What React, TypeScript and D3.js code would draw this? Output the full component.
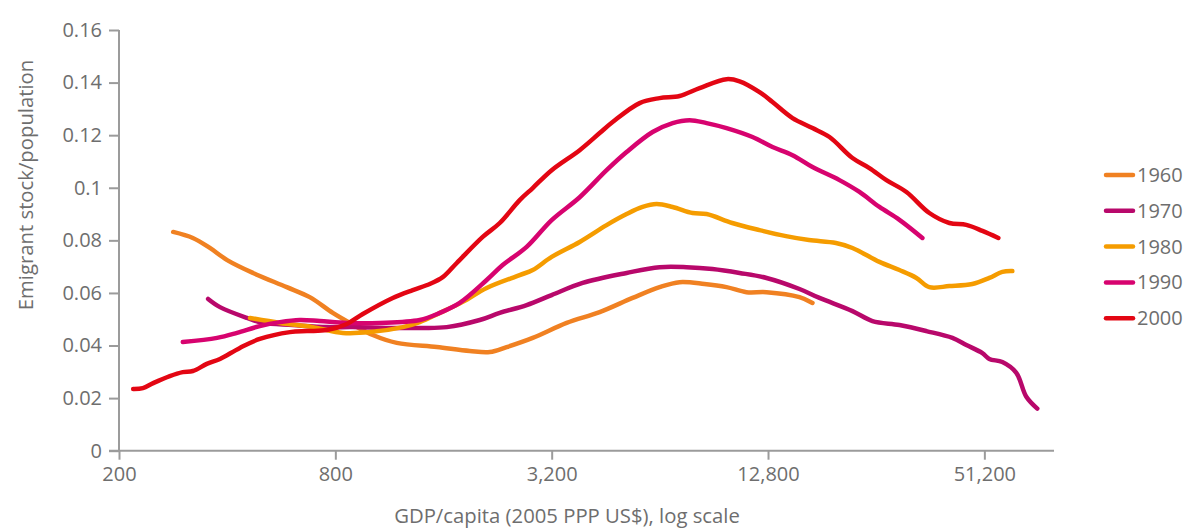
import React, { useEffect, useRef } from "react";
import * as d3 from "d3";

// GDP per capita (2005 PPP US$) and emigrant stock / population
const gdp1960 = [283, 321, 358, 400, 472, 586, 679, 787, 878, 1017, 1186, 1533, 1893, 2152, 2398, 2834, 3522, 4352, 5375, 6390, 7263, 8520, 9813, 11150, 12680, 15660, 17020];
const share1960 = [0.0832, 0.0809, 0.0771, 0.0725, 0.0676, 0.0622, 0.0584, 0.0524, 0.0486, 0.044, 0.041, 0.0394, 0.0379, 0.0375, 0.0394, 0.0429, 0.0486, 0.0527, 0.0581, 0.0622, 0.0641, 0.0634, 0.0622, 0.0603, 0.0603, 0.0584, 0.0562];

const gdp1970 = [354, 382, 454, 503, 609, 758, 895, 1113, 1374, 1634, 2018, 2294, 2726, 3200, 3903, 5172, 6390, 7596, 8970, 10667, 12680, 15660, 17800, 21990, 24990, 29710, 35320, 41720, 45620, 50560, 52860, 57450, 62840, 67000, 71880];
const share1970 = [0.0577, 0.0546, 0.0505, 0.0486, 0.0478, 0.047, 0.047, 0.0467, 0.0467, 0.047, 0.0497, 0.0524, 0.0554, 0.0592, 0.0638, 0.0676, 0.0698, 0.0698, 0.0691, 0.0676, 0.0657, 0.0615, 0.0581, 0.0531, 0.0493, 0.0478, 0.0455, 0.0429, 0.0402, 0.0371, 0.0349, 0.0337, 0.0296, 0.0205, 0.016];

const gdp1980 = [463, 561, 693, 839, 998, 1233, 1374, 1562, 1810, 2110, 2607, 2834, 3200, 3829, 4550, 5172, 5730, 6268, 6946, 7894, 8634, 10180, 12122, 14360, 16640, 19780, 21990, 26140, 29710, 33130, 35990, 40920, 47400, 52860, 57450, 61260];
const share1980 = [0.0505, 0.0486, 0.047, 0.0448, 0.0451, 0.047, 0.0489, 0.0524, 0.0566, 0.0619, 0.0668, 0.0687, 0.0737, 0.0794, 0.0858, 0.09, 0.0927, 0.0938, 0.0927, 0.0904, 0.09, 0.0866, 0.0839, 0.0816, 0.0801, 0.079, 0.0771, 0.0718, 0.0687, 0.0657, 0.0622, 0.0626, 0.0634, 0.0657, 0.068, 0.0683];

const gdp1990 = [301, 375, 426, 493, 561, 637, 724, 861, 1064, 1374, 1562, 1775, 2110, 2338, 2726, 3200, 3829, 4550, 5172, 6110, 6946, 7746, 8634, 9813, 11590, 13172, 14975, 17020, 20233, 23000, 26140, 29710, 34420];
const share1990 = [0.0413, 0.0429, 0.0448, 0.0474, 0.0489, 0.0497, 0.0493, 0.0486, 0.0486, 0.0497, 0.0524, 0.0562, 0.0649, 0.0706, 0.0775, 0.0877, 0.0964, 0.1067, 0.1136, 0.1212, 0.1246, 0.1257, 0.1246, 0.1227, 0.1193, 0.1155, 0.1124, 0.1079, 0.1029, 0.0984, 0.0927, 0.0878, 0.0809];

const gdp2000 = [219, 233, 249, 277, 301, 321, 351, 382, 434, 493, 598, 667, 758, 861, 954, 1156, 1314, 1465, 1592, 1742, 2057, 2294, 2607, 2834, 3200, 3829, 4352, 4729, 5622, 6390, 7263, 8256, 9813, 10667, 12122, 13172, 14975, 17020, 18980, 21990, 24510, 27330, 31070, 35990, 40920, 45620, 50560, 56000];
const share2000 = [0.0235, 0.0238, 0.0257, 0.0284, 0.0299, 0.0303, 0.033, 0.0349, 0.0391, 0.0425, 0.0451, 0.0455, 0.0459, 0.0482, 0.052, 0.0581, 0.0611, 0.0634, 0.066, 0.0714, 0.0813, 0.0866, 0.0953, 0.0999, 0.1067, 0.1143, 0.1208, 0.125, 0.1322, 0.1341, 0.1349, 0.1379, 0.1413, 0.1405, 0.1364, 0.1326, 0.1265, 0.1227, 0.1193, 0.1113, 0.1075, 0.1029, 0.0984, 0.0904, 0.0866, 0.0859, 0.0836, 0.0809];

const years = ["1960", "1970", "1980", "1990", "2000"];
const colors = ["#f08122", "#b8086b", "#f59c00", "#d7036f", "#e30613"];
const xTicks = [200, 800, 3200, 12800, 51200];
const yTicks = [0, 0.02, 0.04, 0.06, 0.08, 0.1, 0.12, 0.14, 0.16];

const W = 1191;
const H = 530;
const FONT = "'Open Sans', Lato, sans-serif";
const AXIS = "#9b9b9b";
const TEXT = "#6e6e6e";

export default function App() {
  const ref = useRef<SVGSVGElement>(null);

  useEffect(() => {
    const svg = d3.select(ref.current);
    svg.selectAll("*").remove();

    const x = d3.scaleLog().base(2).domain([200, 80000]).range([119, 1054]);
    const y = d3.scaleLinear().domain([0, 0.16]).range([450.7, 30]);

    const series = [
      { gdp: gdp1960, share: share1960 },
      { gdp: gdp1970, share: share1970 },
      { gdp: gdp1980, share: share1980 },
      { gdp: gdp1990, share: share1990 },
      { gdp: gdp2000, share: share2000 },
    ];

    // y axis
    const yAxis = svg
      .append("g")
      .attr("transform", "translate(119,0)")
      .call(
        d3
          .axisLeft(y)
          .tickValues(yTicks)
          .tickSize(10)
          .tickPadding(7)
          .tickFormat((d) => (d === 0 ? "0" : d3.format("")(+d)))
      );
    yAxis.select(".domain").attr("d", `M0,${y(0)}V${y(0.16)}`);

    // x axis
    const xAxis = svg
      .append("g")
      .attr("transform", `translate(0,${y(0)})`)
      .call(
        d3
          .axisBottom(x)
          .tickValues(xTicks)
          .tickSize(9)
          .tickPadding(7)
          .tickFormat((d) => d3.format(",")(+d))
      );
    xAxis.select(".domain").attr("d", `M109,0H1054`);

    svg.selectAll(".domain").attr("stroke", AXIS).attr("stroke-width", 2);
    svg.selectAll(".tick line").attr("stroke", AXIS).attr("stroke-width", 2);
    svg
      .selectAll(".tick text")
      .attr("fill", TEXT)
      .attr("font-family", FONT)
      .attr("font-size", 20);

    // axis titles
    svg
      .append("text")
      .attr("transform", "translate(33,185) rotate(-90)")
      .attr("text-anchor", "middle")
      .attr("font-family", FONT)
      .attr("font-size", 20.3)
      .attr("fill", TEXT)
      .text("Emigrant stock/population");

    svg
      .append("text")
      .attr("x", 567)
      .attr("y", 523)
      .attr("text-anchor", "middle")
      .attr("font-family", FONT)
      .attr("font-size", 20.3)
      .attr("fill", TEXT)
      .text("GDP/capita (2005 PPP US$), log scale");

    // lines
    const line = d3
      .line<[number, number]>()
      .x((d) => x(d[0]))
      .y((d) => y(d[1]))
      .curve(d3.curveCatmullRom.alpha(0.5));

    series.forEach((s, i) => {
      const pts: [number, number][] = s.gdp.map((g, j) => [g, s.share[j]]);
      svg
        .append("path")
        .datum(pts)
        .attr("d", line)
        .attr("fill", "none")
        .attr("stroke", colors[i])
        .attr("stroke-width", 4.5)
        .attr("stroke-linecap", "round")
        .attr("stroke-linejoin", "round");
    });

    // legend
    const legend = svg
      .append("g")
      .selectAll("g")
      .data(years)
      .enter()
      .append("g")
      .attr("transform", (d, i) => `translate(1106,${175 + i * 35.8})`);
    legend
      .append("line")
      .attr("x1", 0)
      .attr("x2", 27)
      .attr("stroke", (d, i) => colors[i])
      .attr("stroke-width", 4.5)
      .attr("stroke-linecap", "round");
    legend
      .append("text")
      .attr("x", 31)
      .attr("y", 7)
      .attr("font-family", FONT)
      .attr("font-size", 20)
      .attr("fill", TEXT)
      .text((d) => d);
  }, []);

  return (
    <svg
      ref={ref}
      width={W}
      height={H}
      style={{ position: "absolute", left: 0, top: 0, background: "#fff" }}
    />
  );
}
